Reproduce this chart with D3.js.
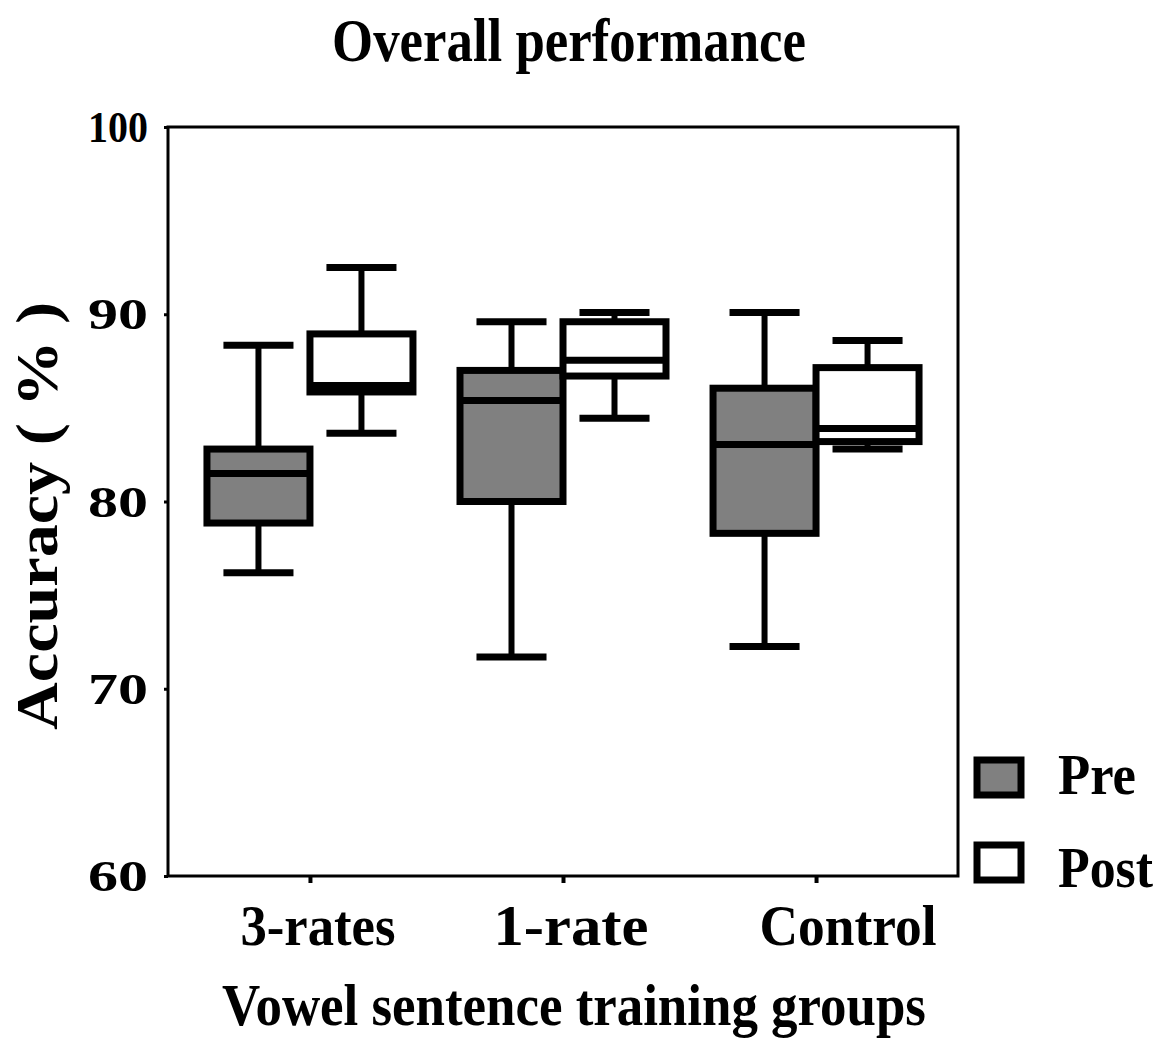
<!DOCTYPE html>
<html><head><meta charset="utf-8">
<script src="https://cdn.jsdelivr.net/npm/d3@7/dist/d3.min.js"></script>
<style>body{margin:0;background:#fff}svg{display:block}text{font-family:"Liberation Serif","Times New Roman",serif;font-weight:bold;fill:#000}</style>
</head><body><svg id="c" width="1159" height="1040"></svg>
<script>
const groups = ["3-rates", "1-rate", "Control"];
const phases = ["Pre", "Post"];
const yTicks = [60, 70, 80, 90, 100];
// [min, q1, median, q3, max]
const preStats = [
  [76.2, 78.85, 81.5, 82.8, 88.35],
  [71.7, 80.0, 85.4, 87.0, 89.6],
  [72.25, 78.3, 83.05, 86.05, 90.1]
];
const postStats = [
  [83.65, 85.85, 86.2, 88.95, 92.5],
  [84.45, 86.7, 87.55, 89.6, 90.1],
  [82.8, 83.2, 83.9, 87.15, 88.6]
];
const phaseFill = {Pre: "#808080", Post: "#ffffff"};
const title = "Overall performance";
const xTitle = "Vowel sentence training groups";
const yTitle = "Accuracy ( % )";

const svg = d3.select("#c");
const L = 168, R = 958, T = 127, B = 876;
const y = d3.scaleLinear().domain([60, 100]).range([B, T]);
const x = d3.scalePoint().domain(groups).range([L, R]).padding(0.561);
const xs = d3.scaleBand().domain(phases).range([-103, 103]).padding(0);

function fit(sel, w) {
  const n = sel.node().getComputedTextLength();
  const tx = +sel.attr("data-x"), ty = +sel.attr("data-y");
  sel.attr("transform", `translate(${tx},${ty}) scale(${w / n},1)`);
}
function label(txt, cx, by, size, w, anchor = "middle") {
  const t = svg.append("text").text(txt).attr("font-size", size)
    .attr("text-anchor", anchor).attr("data-x", cx).attr("data-y", by);
  fit(t, w);
  return t;
}

// axes
const yAxis = svg.append("g").attr("transform", `translate(${L},0)`)
  .call(d3.axisLeft(y).tickValues(yTicks).tickSize(4).tickFormat(""));
yAxis.select(".domain").remove();
yAxis.selectAll("line").attr("stroke", "#000").attr("stroke-width", 3);
const xAxis = svg.append("g").attr("transform", `translate(0,${B})`)
  .call(d3.axisBottom(x).tickSize(7).tickFormat(""));
xAxis.select(".domain").remove();
xAxis.selectAll("line").attr("stroke", "#000").attr("stroke-width", 4);

// y tick labels
yTicks.forEach(v => label(String(v), 148, y(v) + 15, 45, 60, "end"));

// boxes
const data = [];
groups.forEach((g, i) => {
  data.push({g, p: "Pre", s: preStats[i]});
  data.push({g, p: "Post", s: postStats[i]});
});
const bw = xs.bandwidth();
const cw = bw * 0.68;
const bg = svg.append("g").selectAll("g").data(data).join("g")
  .attr("transform", d => `translate(${x(d.g) + xs(d.p) + bw / 2},0)`);
bg.append("line").attr("x1", 0).attr("x2", 0)
  .attr("y1", d => y(d.s[4])).attr("y2", d => y(d.s[3]))
  .attr("stroke", "#000").attr("stroke-width", 6);
bg.append("line").attr("x1", 0).attr("x2", 0)
  .attr("y1", d => y(d.s[1])).attr("y2", d => y(d.s[0]))
  .attr("stroke", "#000").attr("stroke-width", 6);
bg.append("line").attr("x1", -cw / 2).attr("x2", cw / 2)
  .attr("y1", d => y(d.s[4])).attr("y2", d => y(d.s[4]))
  .attr("stroke", "#000").attr("stroke-width", 7);
bg.append("line").attr("x1", -cw / 2).attr("x2", cw / 2)
  .attr("y1", d => y(d.s[0])).attr("y2", d => y(d.s[0]))
  .attr("stroke", "#000").attr("stroke-width", 7);
bg.append("rect").attr("x", -bw / 2).attr("width", bw)
  .attr("y", d => y(d.s[3])).attr("height", d => y(d.s[1]) - y(d.s[3]))
  .attr("fill", d => phaseFill[d.p]).attr("stroke", "#000").attr("stroke-width", 7);
bg.append("line").attr("x1", -bw / 2).attr("x2", bw / 2)
  .attr("y1", d => y(d.s[2])).attr("y2", d => y(d.s[2]))
  .attr("stroke", "#000").attr("stroke-width", 7);

// frame
svg.append("rect").attr("x", L).attr("y", T).attr("width", R - L).attr("height", B - T)
  .attr("fill", "none").attr("stroke", "#000").attr("stroke-width", 3);

// x labels
groups.forEach(g => label(g, x(g) + (g === "Control" ? 32 : 8), 945, 58, g === "Control" ? 177 : 155));
label(title, 569, 61, 62, 474);
label(xTitle, 574, 1025, 60, 704);
// y title
const yt = svg.append("text").text(yTitle).attr("font-size", 60).attr("text-anchor", "middle");
const ytn = yt.node().getComputedTextLength();
yt.attr("transform", `translate(57,516) rotate(-90) scale(${428 / ytn},1)`);

// legend
const lg = svg.append("g").selectAll("g").data(phases).join("g")
  .attr("transform", (d, i) => `translate(0,${i * 85})`);
lg.append("rect").attr("x", 977).attr("y", 760).attr("width", 44).attr("height", 35)
  .attr("fill", d => phaseFill[d]).attr("stroke", "#000").attr("stroke-width", 7);
phases.forEach((p, i) => label(p, 1058, 794 + i * 93, 56, p === "Pre" ? 78 : 95, "start"));
</script></body></html>
